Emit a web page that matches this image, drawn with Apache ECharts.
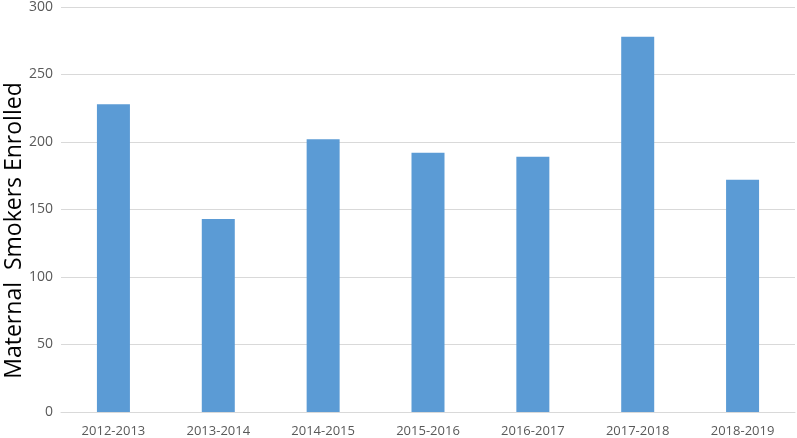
<!DOCTYPE html>
<html>
<head>
<meta charset="utf-8">
<script src="https://cdn.jsdelivr.net/npm/echarts@6/dist/echarts.min.js"></script>
<style>
  html, body { margin: 0; padding: 0; background: #fff; }
  #chart { width: 797px; height: 438px; }
</style>
</head>
<body>
<div id="chart"></div>
<script>
  // data
  var years = ['2012-2013', '2013-2014', '2014-2015', '2015-2016', '2016-2017', '2017-2018', '2018-2019'];
  var enrolled = [228, 143, 202, 192, 189, 278, 172];
  var yTicks = [0, 50, 100, 150, 200, 250, 300];

  var chart = echarts.init(document.getElementById('chart'));
  chart.setOption({
    animation: false,
    textStyle: { fontFamily: 'Open Sans' },
    grid: { left: 61, right: 2, top: 7, bottom: 26, outerBoundsMode: 'none' },
    xAxis: {
      type: 'category',
      data: years,
      axisTick: { show: false },
      axisLine: { lineStyle: { color: '#d9d9d9', width: 1 } },
      axisLabel: { color: '#595959', fontSize: 13, margin: 13 }
    },
    yAxis: {
      type: 'value',
      min: yTicks[0],
      max: yTicks[yTicks.length - 1],
      interval: yTicks[1] - yTicks[0],
      name: 'Maternal  Smokers Enrolled',
      nameLocation: 'middle',
      nameGap: 35,
      nameMoveOverlap: false,
      nameTextStyle: { color: '#000', fontSize: 23, padding: [0, 42, 0, 0] },
      axisLine: { show: false },
      axisTick: { show: false },
      axisLabel: { color: '#595959', fontSize: 14, margin: 8 },
      splitLine: { lineStyle: { color: '#d9d9d9', width: 1 } }
    },
    series: [{
      type: 'bar',
      data: enrolled,
      barWidth: 33,
      itemStyle: { color: '#5b9bd5' }
    }]
  });
</script>
</body>
</html>
